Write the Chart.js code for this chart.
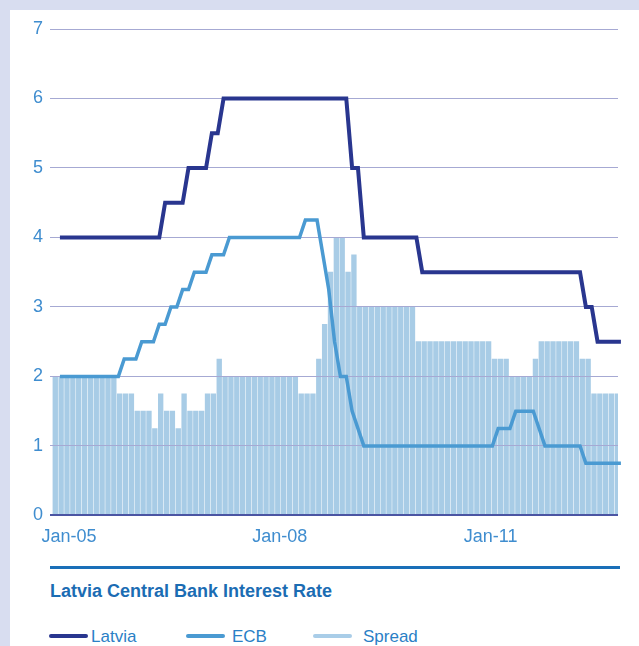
<!DOCTYPE html>
<html>
<head>
<meta charset="utf-8">
<script src="https://cdn.jsdelivr.net/npm/chart.js@4/dist/chart.umd.min.js"></script>
<style>
  html, body { margin: 0; padding: 0; }
  body { width: 639px; height: 646px; background: #d8ddf0; position: relative; overflow: hidden;
         font-family: "Liberation Sans", Arial, sans-serif; }
  #panel { position: absolute; left: 10px; top: 10px; right: 0; bottom: 0; background: #fff; }
  #chartBox { position: absolute; left: 10px; top: 10px; width: 629px; height: 541px; }
  #rule { position: absolute; left: 50px; top: 566px; width: 570px; height: 3px; background: #1a6fb8; }
  #title { position: absolute; left: 50px; top: 581px; font-size: 18px; line-height: 20px; font-weight: bold; color: #1b6cb3; white-space: nowrap; }
  .key { position: absolute; top: 634px; width: 39px; height: 3.5px; border-radius: 2px; }
  .keyText { position: absolute; top: 627px; font-size: 17px; line-height: 20px; color: #2a80c6; white-space: nowrap; }
</style>
</head>
<body>
<div id="panel"></div>
<div id="chartBox"><canvas id="rateChart"></canvas></div>
<div id="rule"></div>
<div id="title">Latvia Central Bank Interest Rate</div>
<div class="key" style="left:49px;background:#29368f"></div><div class="keyText" style="left:91px">Latvia</div>
<div class="key" style="left:186px;background:#4a9ad2"></div><div class="keyText" style="left:232px">ECB</div>
<div class="key" style="left:313px;background:#a9cde8"></div><div class="keyText" style="left:363px">Spread</div>
<script>
// monthly, Jan-05 .. Jan-13
const monthNames = ['Jan','Feb','Mar','Apr','May','Jun','Jul','Aug','Sep','Oct','Nov','Dec'];
const months = [];
for (let y = 5; y <= 13; y++) {
  for (let m = 0; m < 12; m++) {
    if (y === 13 && m > 0) break;
    months.push(monthNames[m] + '-' + String(y).padStart(2, '0'));
  }
}
const tickLabels = ['Jan-05', 'Jan-08', 'Jan-11'];

const latvia = [
  4, 4, 4, 4, 4, 4, 4, 4, 4, 4, 4, 4, 4, 4, 4, 4, 4, 4,
  4.5, 4.5, 4.5, 4.5,
  5, 5, 5, 5,
  5.5, 5.5,
  6, 6, 6, 6, 6, 6, 6, 6, 6, 6, 6, 6, 6, 6, 6, 6, 6, 6, 6, 6, 6, 6,
  5, 5,
  4, 4, 4, 4, 4, 4, 4, 4, 4, 4,
  3.5, 3.5, 3.5, 3.5, 3.5, 3.5, 3.5, 3.5, 3.5, 3.5, 3.5, 3.5, 3.5, 3.5,
  3.5, 3.5, 3.5, 3.5, 3.5, 3.5, 3.5, 3.5, 3.5, 3.5, 3.5, 3.5, 3.5, 3.5,
  3, 3,
  2.5, 2.5, 2.5, 2.5, 2.5
];
const ecb = [
  2, 2, 2, 2, 2, 2, 2, 2, 2, 2, 2,
  2.25, 2.25, 2.25,
  2.5, 2.5, 2.5,
  2.75, 2.75,
  3, 3,
  3.25, 3.25,
  3.5, 3.5, 3.5,
  3.75, 3.75, 3.75,
  4, 4, 4, 4, 4, 4, 4, 4, 4, 4, 4, 4, 4,
  4.25, 4.25, 4.25,
  3.75, 3.25, 2.5, 2, 2, 1.5, 1.25,
  1, 1, 1, 1, 1, 1, 1, 1, 1, 1, 1, 1, 1, 1, 1, 1, 1, 1, 1, 1, 1, 1, 1,
  1.25, 1.25, 1.25,
  1.5, 1.5, 1.5, 1.5,
  1.25,
  1, 1, 1, 1, 1, 1, 1,
  0.75, 0.75, 0.75, 0.75, 0.75, 0.75, 0.75
];
const spread = [
  2, 2, 2, 2, 2, 2, 2, 2, 2, 2, 2,
  1.75, 1.75, 1.75,
  1.5, 1.5, 1.5,
  1.25, 1.75, 1.5, 1.5, 1.25, 1.75,
  1.5, 1.5, 1.5,
  1.75, 1.75,
  2.25,
  2, 2, 2, 2, 2, 2, 2, 2, 2, 2, 2, 2, 2,
  1.75, 1.75, 1.75,
  2.25, 2.75, 3.5, 4, 4, 3.5, 3.75,
  3, 3, 3, 3, 3, 3, 3, 3, 3, 3,
  2.5, 2.5, 2.5, 2.5, 2.5, 2.5, 2.5, 2.5, 2.5, 2.5, 2.5, 2.5, 2.5,
  2.25, 2.25, 2.25,
  2, 2, 2, 2,
  2.25,
  2.5, 2.5, 2.5, 2.5, 2.5, 2.5, 2.5,
  2.25, 2.25,
  1.75, 1.75, 1.75, 1.75, 1.75
];

// y grid goes over the bars but under the lines
const gridOverBars = {
  id: 'gridOverBars',
  afterDatasetDraw(chart, args) {
    if (args.index === 2) chart.scales.y.drawGrid(chart.chartArea);
  }
};

const ctx = document.getElementById('rateChart').getContext('2d');
new Chart(ctx, {
  type: 'line',
  data: {
    labels: months,
    datasets: [
      {
        label: 'Latvia',
        data: latvia.map((v, i) => ({ x: i, y: v })),
        xAxisID: 'xl',
        borderColor: '#29368f',
        borderWidth: 4,
        pointRadius: 0,
        tension: 0,
        clip: false
      },
      {
        label: 'ECB',
        data: ecb.map((v, i) => ({ x: i, y: v })),
        xAxisID: 'xl',
        borderColor: '#4a9ad2',
        borderWidth: 3.5,
        pointRadius: 0,
        tension: 0,
        clip: false
      },
      {
        type: 'bar',
        label: 'Spread',
        data: spread,
        xAxisID: 'x',
        backgroundColor: '#a8cce6',
        borderWidth: 0,
        barThickness: 4.7
      }
    ]
  },
  options: {
    responsive: true,
    maintainAspectRatio: false,
    animation: false,
    layout: { padding: { left: 10, right: 21, top: 19, bottom: 0 } },
    plugins: {
      legend: { display: false },
      tooltip: { enabled: false }
    },
    scales: {
      x: {
        type: 'category',
        offset: true,
        grid: { display: false },
        border: { display: false },
        ticks: {
          autoSkip: false,
          maxRotation: 0,
          padding: 3,
          labelOffset: 16,
          color: '#3f8dcf',
          font: { family: 'Liberation Sans', size: 18 },
          callback: function (value) {
            const lab = this.getLabelForValue(value);
            return tickLabels.includes(lab) ? lab : '';
          }
        }
      },
      xl: {
        type: 'linear',
        display: false,
        offset: false,
        bounds: 'data',
        min: -1.7,
        max: 95.5
      },
      y: {
        min: 0,
        max: 7,
        border: { display: false },
        afterFit: (axis) => { axis.width = 30; },
        grid: {
          drawTicks: false,
          color: (c) => c.tick.value === 0 ? '#4b55a3' : '#a6a9d3',
          lineWidth: (c) => c.tick.value === 0 ? 2 : 1
        },
        ticks: {
          stepSize: 1,
          padding: 7,
          color: '#3f8dcf',
          font: { family: 'Liberation Sans', size: 18 }
        }
      }
    }
  },
  plugins: [gridOverBars]
});
</script>
</body>
</html>
